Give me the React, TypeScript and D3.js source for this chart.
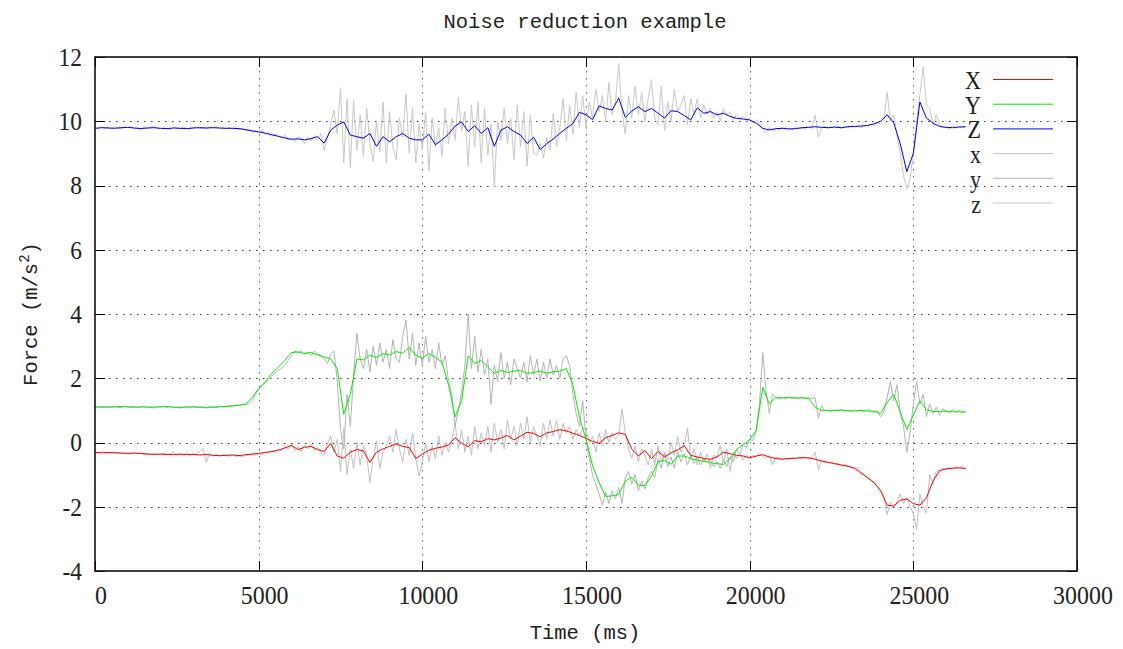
import React from 'react';
import * as d3 from 'd3';

// sampling periods (ms)
const smoothStep = 200;
const rawStep = 100;

// filtered signals, one value every 200 ms
const smoothX = [
  -0.31, -0.32, -0.31, -0.32, -0.33, -0.34, -0.33, -0.34, -0.36, -0.37,
  -0.36, -0.37, -0.38, -0.36, -0.38, -0.37, -0.39, -0.37, -0.40, -0.41,
  -0.40, -0.39, -0.41, -0.38, -0.36, -0.34, -0.31, -0.28, -0.24, -0.17,
  -0.09, -0.22, -0.15, -0.12, -0.22, -0.28, -0.03, -0.42, -0.49, -0.30,
  -0.22, -0.26, -0.62, -0.30, -0.20, -0.12, -0.04, -0.12, -0.16, -0.50,
  -0.36, -0.24, -0.18, -0.14, -0.08, 0.15, -0.02, -0.14, 0.06, 0.02,
  0.12, 0.08, 0.14, 0.22, 0.08, 0.20, 0.32, 0.28, 0.18, 0.30,
  0.34, 0.40, 0.36, 0.29, 0.22, 0.13, 0.03, -0.02, 0.15, 0.22,
  0.30, 0.25, -0.20, -0.42, -0.25, -0.50, -0.28, -0.45, -0.32, -0.23,
  -0.10, -0.40, -0.45, -0.50, -0.52, -0.45, -0.30, -0.35, -0.40, -0.42,
  -0.48, -0.42, -0.38, -0.45, -0.50, -0.52, -0.50, -0.49, -0.47, -0.48,
  -0.52, -0.58, -0.62, -0.66, -0.70, -0.74, -0.80, -0.95, -1.10, -1.25,
  -1.50, -1.95, -1.98, -1.80, -1.76, -1.90, -1.95, -1.72, -1.20, -0.88,
  -0.82, -0.80, -0.79, -0.81,
];

const smoothY = [
  1.10, 1.11, 1.10, 1.11, 1.12, 1.11, 1.10, 1.11, 1.10, 1.10,
  1.11, 1.12, 1.10, 1.09, 1.10, 1.11, 1.10, 1.09, 1.10, 1.11,
  1.12, 1.14, 1.16, 1.20, 1.40, 1.68, 1.88, 2.15, 2.35, 2.55,
  2.80, 2.82, 2.77, 2.80, 2.73, 2.66, 2.60, 2.30, 0.88, 1.50,
  2.60, 2.57, 2.72, 2.65, 2.77, 2.72, 2.83, 2.78, 2.96, 2.72,
  2.62, 2.77, 2.65, 2.50, 1.80, 0.80, 1.30, 2.70, 2.46, 2.55,
  2.35, 2.15, 2.25, 2.18, 2.22, 2.25, 2.15, 2.18, 2.22, 2.16,
  2.20, 2.22, 2.30, 1.80, 0.78, 0.10, -0.72, -1.25, -1.68, -1.66,
  -1.62, -1.20, -1.08, -1.33, -1.34, -1.05, -0.60, -0.56, -0.68, -0.42,
  -0.42, -0.50, -0.55, -0.58, -0.63, -0.66, -0.68, -0.50, -0.22, -0.06,
  0.08, 0.38, 1.72, 1.20, 1.40, 1.39, 1.40, 1.38, 1.39, 1.37,
  1.10, 1.00, 0.99, 1.00, 1.01, 0.99, 0.98, 1.00, 0.98, 0.97,
  0.90, 1.25, 1.50, 0.95, 0.40, 0.85, 1.30, 1.02, 0.97, 0.96,
  0.98, 0.96, 0.95, 0.95,
];

const smoothZ = [
  9.78, 9.80, 9.79, 9.78, 9.80, 9.81, 9.79, 9.77, 9.79, 9.80,
  9.78, 9.77, 9.79, 9.78, 9.77, 9.79, 9.80, 9.79, 9.80, 9.79,
  9.78, 9.78, 9.77, 9.74, 9.70, 9.67, 9.63, 9.58, 9.53, 9.48,
  9.44, 9.45, 9.42, 9.46, 9.52, 9.32, 9.72, 9.88, 9.98, 9.57,
  9.52, 9.47, 9.62, 9.22, 9.52, 9.36, 9.52, 9.62, 9.47, 9.42,
  9.42, 9.60, 9.27, 9.42, 9.60, 9.85, 9.98, 9.68, 9.86, 9.62,
  9.80, 9.22, 9.72, 9.83, 9.68, 9.57, 9.31, 9.50, 9.12, 9.30,
  9.45, 9.62, 9.78, 9.93, 10.28, 10.20, 10.05, 10.48, 10.40, 10.35,
  10.72, 10.12, 10.32, 10.45, 10.30, 10.40, 10.25, 10.10, 10.33, 10.30,
  10.18, 10.04, 10.42, 10.25, 10.30, 10.20, 10.25, 10.15, 10.09, 10.07,
  10.04, 9.94, 9.78, 9.73, 9.77, 9.78, 9.76, 9.77, 9.80, 9.81,
  9.83, 9.81, 9.80, 9.82, 9.80, 9.83, 9.84, 9.85, 9.87, 9.92,
  10.00, 10.20, 9.95, 9.30, 8.43, 9.00, 10.60, 10.10, 9.94, 9.84,
  9.81, 9.80, 9.82, 9.83,
];

// raw sensor readings, one value every 100 ms
const rawX = [
  -0.30, -0.33, -0.29, -0.32, -0.31, -0.34, -0.30, -0.33, -0.32, -0.35,
  -0.33, -0.36, -0.32, -0.35, -0.33, -0.37, -0.34, -0.38, -0.35, -0.39,
  -0.36, -0.34, -0.38, -0.35, -0.30, -0.40, -0.36, -0.39, -0.33, -0.40,
  -0.35, -0.38, -0.28, -0.18, -0.62, -0.32, -0.42, -0.37, -0.43, -0.38,
  -0.40, -0.43, -0.38, -0.44, -0.41, -0.45, -0.39, -0.42, -0.37, -0.40,
  -0.34, -0.37, -0.30, -0.33, -0.26, -0.30, -0.20, -0.27, -0.12, -0.20,
  -0.05, -0.25, -0.12, -0.28, -0.08, -0.20, -0.05, -0.25, -0.15, -0.32,
  -0.40, -0.05, 0.20, -0.30, 0.10, -0.90, 0.45, -1.00, -0.20, -0.80,
  0.00, -0.70, -0.10, -0.40, -1.25, -0.50, 0.05, -0.80, -0.30, -0.10,
  0.20, -0.30, 0.40, -0.20, -0.60, 0.10, -0.40, 0.30, -0.50, -1.05,
  -0.60, 0.00, -0.60, -0.10, -0.50, 0.20, -0.40, 0.00, -0.30, 0.10,
  0.60, -0.20, 0.40, -0.30, 0.20, -0.40, 0.50, -0.20, 0.30, -0.10,
  0.50, -0.30, 0.60, 0.00, 0.40, -0.20, 0.70, 0.10, 0.50, -0.10,
  0.60, 0.10, 0.80, 0.00, 0.50, 0.20, -0.10, 0.60, 0.10, 0.70,
  0.20, 0.70, 0.10, 0.60, 0.30, 0.50, 0.10, 0.40, 0.20, 0.45,
  0.40, 0.00, 0.20, -0.30, 0.30, -0.10, 0.40, 0.00, 0.30, 0.10,
  0.20, 1.05, 0.30, -0.20, -0.50, -0.10, -0.60, -0.20, -0.40, -0.70,
  -0.20, -0.70, -0.10, -0.60, -0.30, -0.55, 0.00, -0.40, 0.20, -0.30,
  -0.10, 0.45, -0.50, -0.20, -0.70, -0.30, -0.60, -0.35, -0.80, -0.40,
  -0.45, -0.10, -0.60, -0.20, -0.90, -0.30, -0.50, -0.35, -0.55, -0.40,
  -0.50, -0.38, -0.45, -0.35, -0.42, -0.50, -0.40, -0.70, -0.45, -0.48,
  -0.52, -0.49, -0.53, -0.48, -0.50, -0.47, -0.51, -0.46, -0.49, -0.47,
  -0.30, -0.85, -0.56, -0.60, -0.63, -0.61, -0.67, -0.65, -0.71, -0.69,
  -0.73, -0.76, -0.80, -0.78, -0.90, -0.98, -1.08, -1.15, -1.25, -1.35,
  -1.50, -1.65, -2.25, -1.85, -2.00, -1.85, -1.60, -1.90, -1.70, -2.00,
  -2.20, -2.70, -1.60, -2.00, -2.20, -1.00, -1.30, -0.90, -0.85, -0.80,
  -0.84, -0.78, -0.82, -0.75, -0.79, -0.72, -0.83,
];

const rawY = [
  1.10, 1.12, 1.08, 1.11, 1.13, 1.09, 1.12, 1.10, 1.08, 1.13,
  1.11, 1.09, 1.12, 1.08, 1.10, 1.13, 1.09, 1.11, 1.07, 1.12,
  1.10, 1.13, 1.09, 1.12, 1.08, 1.11, 1.07, 1.10, 1.12, 1.09,
  1.12, 1.08, 1.11, 1.09, 1.07, 1.12, 1.10, 1.08, 1.13, 1.11,
  1.12, 1.15, 1.13, 1.16, 1.15, 1.18, 1.17, 1.22, 1.30, 1.50,
  1.65, 1.78, 1.85, 1.95, 2.05, 2.18, 2.25, 2.30, 2.42, 2.55,
  2.70, 2.85, 2.78, 2.86, 2.74, 2.82, 2.70, 2.85, 2.76, 2.72,
  2.60, 2.45, 2.75, 2.85, 1.90, 0.40, -0.20, 1.50, 0.50, 2.10,
  3.40, 2.60, 2.30, 2.90, 2.20, 3.00, 2.40, 3.10, 2.50, 2.90,
  2.30, 3.20, 2.60, 2.50, 3.30, 3.80, 2.60, 3.40, 2.40, 3.10,
  2.40, 3.30, 2.50, 2.90, 2.30, 3.10, 2.40, 2.70, 1.90, 1.50,
  0.50, 1.00, 1.60, 2.40, 4.00, 2.30, 3.30, 2.20, 2.90, 2.10,
  2.60, 1.20, 2.40, 1.90, 2.80, 2.00, 2.50, 1.80, 2.60, 2.30,
  2.00, 2.50, 1.90, 2.70, 2.10, 2.60, 1.90, 2.50, 2.00, 2.60,
  2.10, 2.40, 2.00, 2.60, 2.70, 2.40, 1.50, 0.90, 0.50, 1.30,
  0.10, -0.50, -1.00, -1.30, -1.60, -1.95, -1.55, -1.90, -1.50, -1.75,
  -1.40, -1.90, -1.10, -0.90, -1.30, -1.00, -1.50, -1.20, -1.45, -1.10,
  -0.90, -1.10, -0.50, -0.80, -0.35, -0.75, -0.45, -0.80, -0.30, -0.60,
  -0.35, -0.70, -0.40, -0.65, -0.45, -0.70, -0.50, -0.60, -0.55, -0.75,
  -0.60, -0.80, -0.55, -0.75, -0.45, -0.60, -0.20, -0.40, -0.05, -0.15,
  0.10, 0.05, 0.35, 1.20, 2.80, 1.60, 0.90, 1.50, 1.40, 1.35,
  1.40, 1.37, 1.42, 1.38, 1.40, 1.36, 1.41, 1.38, 1.39, 1.37,
  1.40, 0.75, 1.15, 0.98, 1.02, 0.97, 1.01, 0.99, 1.03, 0.98,
  1.00, 0.97, 1.02, 0.98, 1.01, 0.96, 1.03, 0.98, 0.94, 1.00,
  0.80, 0.95, 1.40, 1.90, 1.30, 1.80, 0.90, 0.50, -0.30, 0.30,
  1.20, 1.90, 1.20, 1.50, 0.80, 1.20, 0.90, 1.10, 0.85, 1.05,
  0.98, 0.92, 1.02, 0.95, 1.00, 0.93, 0.97,
];

const rawZ = [
  9.80, 9.76, 9.82, 9.78, 9.81, 9.77, 9.83, 9.79, 9.76, 9.82,
  9.80, 9.84, 9.77, 9.79, 9.75, 9.82, 9.78, 9.81, 9.84, 9.78,
  9.76, 9.80, 9.77, 9.74, 9.81, 9.79, 9.76, 9.82, 9.78, 9.75,
  9.80, 9.83, 9.77, 9.80, 9.76, 9.82, 9.79, 9.84, 9.78, 9.80,
  9.77, 9.81, 9.76, 9.79, 9.74, 9.78, 9.70, 9.74, 9.66, 9.71,
  9.62, 9.70, 9.58, 9.66, 9.52, 9.60, 9.55, 9.48, 9.58, 9.40,
  9.48, 9.35, 9.52, 9.46, 9.30, 9.50, 9.38, 9.55, 9.42, 9.62,
  9.10, 9.45, 9.90, 10.35, 9.60, 11.05, 8.70, 10.70, 8.55, 10.65,
  9.10, 10.20, 8.90, 10.40, 9.30, 8.75, 10.00, 9.05, 10.60, 8.70,
  10.30, 9.20, 8.80, 10.10, 9.50, 10.85, 9.00, 10.40, 8.70, 9.90,
  9.10, 10.30, 8.45, 10.10, 9.20, 9.80, 8.90, 10.40, 9.30, 10.10,
  9.40, 10.75, 9.70, 10.30, 8.60, 10.50, 9.20, 10.60, 8.70, 10.40,
  8.95, 9.90, 7.95, 10.00, 9.40, 10.40, 9.30, 10.10, 8.80, 10.50,
  9.20, 10.30, 8.60, 10.20, 9.00, 8.95, 9.30, 8.85, 9.50, 9.10,
  10.25, 9.20, 9.80, 10.70, 9.40, 10.50, 9.60, 10.90, 9.80, 10.80,
  9.80, 10.60, 10.10, 11.00, 10.30, 10.80, 10.00, 11.20, 10.20, 10.60,
  11.80, 10.30, 9.60, 10.80, 10.10, 11.10, 10.20, 10.90, 10.00, 10.70,
  11.30, 10.10, 9.90, 11.10, 9.70, 10.60, 10.00, 11.00, 10.30, 10.50,
  10.80, 9.90, 10.70, 10.20, 10.70, 10.10, 10.50, 10.20, 10.40, 10.10,
  10.30, 10.00, 10.40, 10.20, 10.30, 10.05, 10.20, 10.10, 10.15, 10.00,
  10.10, 9.95, 10.05, 9.90, 9.75, 9.65, 9.80, 9.70, 9.78, 9.72,
  9.80, 9.75, 9.78, 9.74, 9.80, 9.77, 9.79, 9.76, 9.82, 9.78,
  10.20, 9.50, 9.80, 9.84, 9.78, 9.82, 9.79, 9.83, 9.77, 9.82,
  9.80, 9.86, 9.82, 9.85, 9.80, 9.88, 9.84, 9.90, 9.86, 9.95,
  9.92, 10.05, 10.90, 10.00, 10.20, 9.60, 9.00, 8.30, 7.90, 8.20,
  9.00, 10.00, 10.80, 11.70, 10.50, 10.40, 9.90, 10.20, 9.90, 9.80,
  9.82, 9.76, 9.85, 9.78, 9.84, 9.79, 9.83,
];

const legendItems = [
  { label: 'X', color: '#ff0000' },
  { label: 'Y', color: '#00ee00' },
  { label: 'Z', color: '#0000ff' },
  { label: 'x', color: '#c0c0c0' },
  { label: 'y', color: '#b4b4b4' },
  { label: 'z', color: '#c8c8c8' },
];

const W = 1123;
const H = 649;
const plot = { left: 95, right: 1077, top: 57, bottom: 571 };

const serif = '"Liberation Serif", "Times New Roman", serif';
const mono = '"Liberation Mono", "DejaVu Sans Mono", monospace';
const tickSize = 26;

export default function App() {
  const x = d3.scaleLinear().domain([0, 30000]).range([plot.left, plot.right]);
  const y = d3.scaleLinear().domain([-4, 12]).range([plot.bottom, plot.top]);

  const lineFor = (step: number) =>
    d3
      .line<number>()
      .x((_, i) => x(i * step))
      .y((d) => y(d));

  const rawLine = lineFor(rawStep);
  const smoothLine = lineFor(smoothStep);

  const xTicks = x.ticks(6);
  const yTicks = y.ticks(8);

  return (
    <div style={{ position: 'absolute', left: 0, top: 0, background: '#fff' }}>
      <svg width={W} height={H} style={{ display: 'block' }}>
        <rect width={W} height={H} fill="#fff" />

        {/* grid */}
        <g stroke="#333" strokeWidth={1} strokeDasharray="1.5,5.5">
          {yTicks
            .filter((t) => t > -4 && t < 12)
            .map((t) => (
              <line key={'gy' + t} x1={plot.left} x2={plot.right} y1={Math.round(y(t)) + 0.5} y2={Math.round(y(t)) + 0.5} />
            ))}
          {xTicks
            .filter((t) => t > 0 && t < 30000)
            .map((t) => (
              <line key={'gx' + t} x1={Math.round(x(t)) + 0.5} x2={Math.round(x(t)) + 0.5} y1={plot.top} y2={plot.bottom} stroke="#666" />
            ))}
        </g>

        {/* raw signals */}
        <g fill="none" strokeWidth={1}>
          <path d={rawLine(rawX) || ''} stroke={legendItems[3].color} />
          <path d={rawLine(rawY) || ''} stroke={legendItems[4].color} />
          <path d={rawLine(rawZ) || ''} stroke={legendItems[5].color} />
        </g>

        {/* filtered signals */}
        <g fill="none" strokeWidth={1}>
          <path d={smoothLine(smoothX) || ''} stroke={legendItems[0].color} />
          <path d={smoothLine(smoothY) || ''} stroke={legendItems[1].color} />
          <path d={smoothLine(smoothZ) || ''} stroke={legendItems[2].color} />
        </g>

        {/* tick marks */}
        <g stroke="#000" strokeWidth={1}>
          {yTicks.map((t) => {
            const py = Math.round(y(t)) + 0.5;
            return (
              <g key={'ty' + t}>
                <line x1={plot.left} x2={plot.left + 10} y1={py} y2={py} />
                <line x1={plot.right - 10} x2={plot.right} y1={py} y2={py} />
              </g>
            );
          })}
          {xTicks.map((t) => {
            const px = Math.round(x(t)) + 0.5;
            return (
              <g key={'tx' + t}>
                <line x1={px} x2={px} y1={plot.bottom} y2={plot.bottom - 10} />
                <line x1={px} x2={px} y1={plot.top} y2={plot.top + 10} />
              </g>
            );
          })}
        </g>

        {/* frame */}
        <rect
          x={plot.left}
          y={plot.top}
          width={plot.right - plot.left}
          height={plot.bottom - plot.top}
          fill="none"
          stroke="#111"
          strokeWidth={1.6}
        />

        {/* tick labels */}
        <g fontFamily={serif} fontSize={tickSize} fill="#222">
          {yTicks.map((t) => (
            <text key={'ly' + t} textAnchor="end" transform={`translate(82,${y(t) + 8.8}) scale(0.9,1)`}>
              {t}
            </text>
          ))}
          {xTicks.map((t) => (
            <text key={'lx' + t} textAnchor="middle" transform={`translate(${x(t) + 6},604) scale(0.92,1)`}>
              {t}
            </text>
          ))}
        </g>

        {/* legend */}
        <g>
          {legendItems.map((item, i) => {
            const ly = 79.5 + i * 24.7;
            return (
              <g key={item.label}>
                <text
                  textAnchor="end"
                  fontFamily={serif}
                  fontSize={tickSize}
                  fill="#222"
                  transform={`translate(981,${ly + 9.5}) scale(0.85,1)`}
                >
                  {item.label}
                </text>
                <line x1={993} x2={1053} y1={ly} y2={ly} stroke={item.color} strokeWidth={1} />
              </g>
            );
          })}
        </g>

        {/* titles */}
        <text x={585} y={28} textAnchor="middle" fontFamily={mono} fontSize={20.5} fill="#222">
          Noise reduction example
        </text>
        <text x={585} y={639} textAnchor="middle" fontFamily={mono} fontSize={20.5} fill="#222">
          Time (ms)
        </text>
        <text transform="translate(37,314) rotate(-90)" textAnchor="middle" fontFamily={mono} fontSize={20.5} fill="#222">
          Force (m/s
          <tspan dy={-8} fontSize={14}>
            2
          </tspan>
          <tspan dy={8}>)</tspan>
        </text>
      </svg>
    </div>
  );
}
